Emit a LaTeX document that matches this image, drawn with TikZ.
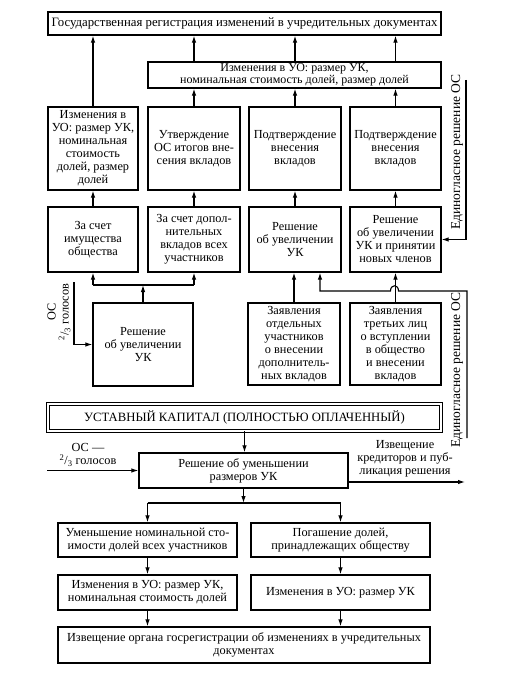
\documentclass[tikz,border=0pt]{standalone}
\usepackage{fontspec}
\setmainfont{Liberation Serif}
\usetikzlibrary{arrows.meta,calc}
\newcommand\myfs{\fontsize{12.3}{13}\selectfont}
\begin{document}
\begin{tikzpicture}[x=1pt,y=-1pt,
  bx/.style={draw, line width=1.3pt, align=center, inner sep=0pt, font=\myfs},
  arr/.style={-{Latex[length=7pt,width=4.5pt]}, line width=1.1pt},
  ln/.style={line width=1.1pt},
  lbl/.style={align=center, inner sep=0pt, font=\myfs}]
\fill[white] (0,0) rectangle (512,674);
\useasboundingbox (0,0) rectangle (512,674);
% top part
\node[bx, minimum width=393pt, minimum height=23pt, font=\fontsize{12.8}{13}\selectfont] (T) at (244.5,23.5) {Государственная регистрация изменений в учредительных документах};
\node[bx, minimum width=293pt, minimum height=26pt, font=\fontsize{12}{11.5}\selectfont] (W) at (294.5,75) {Изменения в УО: размер УК,\\номинальная стоимость долей, размер долей};
\node[bx, minimum width=90pt, minimum height=83pt] (B1) at (93,148.5) {Изменения в\\УО: размер УК,\\номинальная\\стоимость\\долей, размер\\долей};
\node[bx, minimum width=92pt, minimum height=83pt] (B2) at (194,148.5) {Утверждение\\ОС итогов вне-\\сения вкладов};
\node[bx, minimum width=92pt, minimum height=83pt] (B3) at (295,148.5) {Подтверждение\\внесения\\вкладов};
\node[bx, minimum width=91pt, minimum height=83pt] (B4) at (395.5,148.5) {Подтверждение\\внесения\\вкладов};
\node[bx, minimum width=90pt, minimum height=65pt] (C1) at (93,239.5) {За счет\\имущества\\общества};
\node[bx, minimum width=92pt, minimum height=65pt] (C2) at (194,239.5) {За счет допол-\\нительных\\вкладов всех\\участников};
\node[bx, minimum width=92pt, minimum height=65pt] (C3) at (295,239.5) {Решение\\об увеличении\\УК};
\node[bx, minimum width=91pt, minimum height=65pt] (C4) at (395.5,239.5) {Решение\\об увеличении\\УК и принятии\\новых членов};
\node[bx, minimum width=100pt, minimum height=83pt] (D) at (143,344.5) {Решение\\об увеличении\\УК};
\node[bx, minimum width=92pt, minimum height=82pt] (E1) at (294,344) {Заявления\\отдельных\\участников\\о внесении\\дополнитель-\\ных вкладов};
\node[bx, minimum width=91pt, minimum height=82pt] (E2) at (395.5,344) {Заявления\\третьих лиц\\о вступлении\\в общество\\и внесении\\вкладов};
\node[draw, double, double distance=1.5pt, line width=0.8pt, minimum width=393pt, minimum height=27pt, inner sep=0pt, font=\fontsize{12.7}{14}\selectfont] (UK) at (244.5,417.5) {УСТАВНЫЙ КАПИТАЛ (ПОЛНОСТЬЮ ОПЛАЧЕННЫЙ)};
% bottom part
\node[bx, minimum width=209pt, minimum height=35pt] (R) at (243.5,470.5) {Решение об уменьшении\\размеров УК};
\node[bx, minimum width=179pt, minimum height=34pt] (L1) at (147.5,540) {Уменьшение номинальной сто-\\имости долей всех участников};
\node[bx, minimum width=179pt, minimum height=34pt] (R1) at (340.5,540) {Погашение долей,\\принадлежащих обществу};
\node[bx, minimum width=179pt, minimum height=35pt] (L2) at (147.5,592.5) {Изменения в УО: размер УК,\\номинальная стоимость долей};
\node[bx, minimum width=179pt, minimum height=35pt] (R2) at (340.5,592.5) {Изменения в УО: размер УК};
\node[bx, minimum width=372pt, minimum height=36pt] (Bot) at (244,645) {Извещение органа госрегистрации об изменениях в учредительных\\документах};
% labels
\node[lbl, rotate=90] (osl) at (59,312) {ОС\\\textsuperscript{2}/\textsubscript{3} голосов};
\node[lbl, rotate=90, font=\fontsize{13.5}{14}\selectfont] (ed1l) at (457,152) {Единогласное решение ОС};
\node[lbl, rotate=90, font=\fontsize{13.5}{14}\selectfont] (ed2l) at (457,370) {Единогласное решение ОС};
\node[lbl] (os2l) at (88,455) {ОС —\\\textsuperscript{2}/\textsubscript{3} голосов};
\node[lbl] (izl) at (405,459) {Извещение\\кредиторов и пуб-\\ликация решения};
% connectors top
\draw[arr] (B1.north) -- (B1.north |- T.south);
\foreach \n in {B2,B3,B4}{
  \draw[arr] (\n.north) -- (\n.north |- W.south);
  \draw[arr] (\n.north |- W.north) -- (\n.north |- T.south);
}
\foreach \i in {1,2,3,4}{ \draw[arr] (C\i.north) -- (B\i.south); }
\coordinate (jL) at (143,285);
\draw[arr] (D.north) -- (jL);
\draw[ln] (jL -| C1.south) -- (jL -| C2.south);
\draw[arr] (jL -| C1.south) -- (C1.south);
\draw[arr] (jL -| C2.south) -- (C2.south);
\coordinate (osA) at (74,282);
\draw[arr] (osA) |- (D.west);
\coordinate (ed1) at (466,80);
\draw[arr] (ed1) |- (C4.east);
\draw[arr] (E1.north) -- (E1.north |- C3.south);
\draw[arr] (E2.north) -- (E2.north |- C4.south);
\coordinate (rb) at (467,438);
\coordinate (hp) at (320,291);
\draw[arr] (rb) -- (467,291) -- (398.5,291) .. controls (398.5,284) and (390.5,284) .. (390.5,291) -- (hp) -- (hp |- C3.south);
% connectors bottom
\draw[arr] (UK.south) -- (UK.south |- R.north);
\coordinate (inL) at (47,470.5);
\draw[arr] (inL) -- (R.west);
\coordinate (outR) at (465,482);
\draw[arr] (R.east |- outR) -- (outR);
\coordinate (jB) at (245,503);
\draw[arr] (R.south) -- (R.south |- jB);
\draw[ln] (jB -| L1.north) -- (jB -| R1.north);
\draw[arr] (jB -| L1.north) -- (L1.north);
\draw[arr] (jB -| R1.north) -- (R1.north);
\draw[arr] (L1.south) -- (L2.north);
\draw[arr] (R1.south) -- (R2.north);
\draw[arr] (L2.south) -- (L2.south |- Bot.north);
\draw[arr] (R2.south) -- (R2.south |- Bot.north);
\end{tikzpicture}
\end{document}
